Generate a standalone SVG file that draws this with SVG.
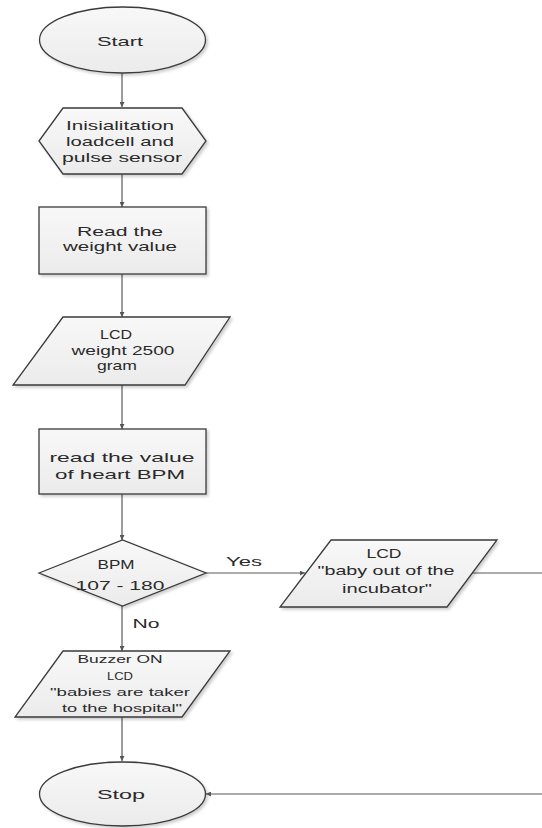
<svg xmlns="http://www.w3.org/2000/svg" width="542" height="828" viewBox="0 0 542 828">
<defs>
<linearGradient id="fillg" x1="0" y1="0" x2="0" y2="1">
<stop offset="0" stop-color="#f8f8f8"/>
<stop offset="1" stop-color="#ebebeb"/>
</linearGradient>
<filter id="sh" x="-10%" y="-10%" width="125%" height="130%">
<feGaussianBlur in="SourceAlpha" stdDeviation="1.5"/>
<feOffset dx="2" dy="2" result="b"/>
<feComponentTransfer><feFuncA type="linear" slope="0.2"/></feComponentTransfer>
<feMerge><feMergeNode/><feMergeNode in="SourceGraphic"/></feMerge>
</filter>
<marker id="arr" viewBox="0 0 10 10" refX="10" refY="5" markerWidth="5" markerHeight="5" orient="auto" markerUnits="userSpaceOnUse">
<path d="M0,0 L10,5 L0,10 z" fill="#555"/>
</marker>
</defs>
<style>
.shape{fill:url(#fillg);stroke:#3a3a3a;stroke-width:1.3;filter:url(#sh)}
.t{font-family:"Liberation Sans",Arial,sans-serif;font-size:13px;fill:#2a2a2a;text-anchor:middle}
.s{font-size:10.5px}
.c{fill:none;stroke:#5a5a5a;stroke-width:1.2}
</style>
<rect width="542" height="828" fill="#ffffff"/>
<g id="connectors">
<line class="c" x1="122" y1="73" x2="122" y2="107" marker-end="url(#arr)"/>
<line class="c" x1="122" y1="174" x2="122" y2="207" marker-end="url(#arr)"/>
<line class="c" x1="122" y1="274" x2="122" y2="317" marker-end="url(#arr)"/>
<line class="c" x1="122" y1="385" x2="122" y2="429" marker-end="url(#arr)"/>
<line class="c" x1="122" y1="494" x2="122" y2="540" marker-end="url(#arr)"/>
<line class="c" x1="206" y1="573" x2="305" y2="573" marker-end="url(#arr)"/>
<line class="c" x1="472" y1="573" x2="542" y2="573"/>
<line class="c" x1="122" y1="606" x2="122" y2="651" marker-end="url(#arr)"/>
<line class="c" x1="122" y1="717" x2="122" y2="761" marker-end="url(#arr)"/>
<line class="c" x1="542" y1="794" x2="206" y2="794" marker-end="url(#arr)"/>
<text class="t" x="244" y="566" textLength="36" lengthAdjust="spacingAndGlyphs">Yes</text>
<text class="t" x="146" y="628" textLength="27" lengthAdjust="spacingAndGlyphs">No</text>
</g>
<g id="start">
<ellipse class="shape" cx="122.5" cy="40" rx="83" ry="33"/>
<text class="t" x="120" y="46" textLength="46" lengthAdjust="spacingAndGlyphs">Start</text>
</g>
<g id="init">
<polygon class="shape" points="39,141 63,108 182,108 206,141 182,174 63,174"/>
<text class="t" x="120" y="130" textLength="108" lengthAdjust="spacingAndGlyphs">Inisialitation</text>
<text class="t" x="120" y="146" textLength="108" lengthAdjust="spacingAndGlyphs">loadcell and</text>
<text class="t" x="122" y="162" textLength="120" lengthAdjust="spacingAndGlyphs">pulse sensor</text>
</g>
<g id="read-weight">
<rect class="shape" x="39" y="207" width="167" height="67"/>
<text class="t" x="120" y="236" textLength="86" lengthAdjust="spacingAndGlyphs">Read the</text>
<text class="t" x="120" y="251" textLength="114" lengthAdjust="spacingAndGlyphs">weight value</text>
</g>
<g id="lcd-weight">
<polygon class="shape" points="63,317 230,317 185,385 13,385"/>
<text class="t" x="116" y="339" textLength="32" lengthAdjust="spacingAndGlyphs">LCD</text>
<text class="t" x="123" y="355" textLength="103" lengthAdjust="spacingAndGlyphs">weight 2500</text>
<text class="t" x="117" y="370" textLength="40" lengthAdjust="spacingAndGlyphs">gram</text>
</g>
<g id="read-bpm">
<rect class="shape" x="39" y="429" width="167" height="65"/>
<text class="t" x="122" y="462" textLength="145" lengthAdjust="spacingAndGlyphs">read the value</text>
<text class="t" x="120" y="479" textLength="130" lengthAdjust="spacingAndGlyphs">of heart BPM</text>
</g>
<g id="decision">
<polygon class="shape" points="39,573 122.5,540 206,573 122.5,606"/>
<text class="t" x="116" y="569" textLength="37" lengthAdjust="spacingAndGlyphs">BPM</text>
<text class="t" x="120" y="590" textLength="89" lengthAdjust="spacingAndGlyphs">107 - 180</text>
</g>
<g id="lcd-out">
<polygon class="shape" points="331,540 497,540 447,607 280,607"/>
<text class="t" x="384" y="558" textLength="35" lengthAdjust="spacingAndGlyphs">LCD</text>
<text class="t" x="386" y="575" textLength="137" lengthAdjust="spacingAndGlyphs">"baby out of the</text>
<text class="t" x="387" y="593" textLength="90" lengthAdjust="spacingAndGlyphs">incubator"</text>
</g>
<g id="buzzer">
<polygon class="shape" points="63,651 230,651 182,717 15,717"/>
<text class="t s" x="120" y="663" textLength="85" lengthAdjust="spacingAndGlyphs">Buzzer ON</text>
<text class="t s" x="120" y="680" textLength="26" lengthAdjust="spacingAndGlyphs">LCD</text>
<text class="t s" x="120" y="696" textLength="140" lengthAdjust="spacingAndGlyphs">"babies are taker</text>
<text class="t s" x="122" y="712" textLength="120" lengthAdjust="spacingAndGlyphs">to the hospital"</text>
</g>
<g id="stop">
<ellipse class="shape" cx="122.5" cy="794" rx="83" ry="32"/>
<text class="t" x="121" y="799" textLength="48" lengthAdjust="spacingAndGlyphs">Stop</text>
</g>
</svg>
